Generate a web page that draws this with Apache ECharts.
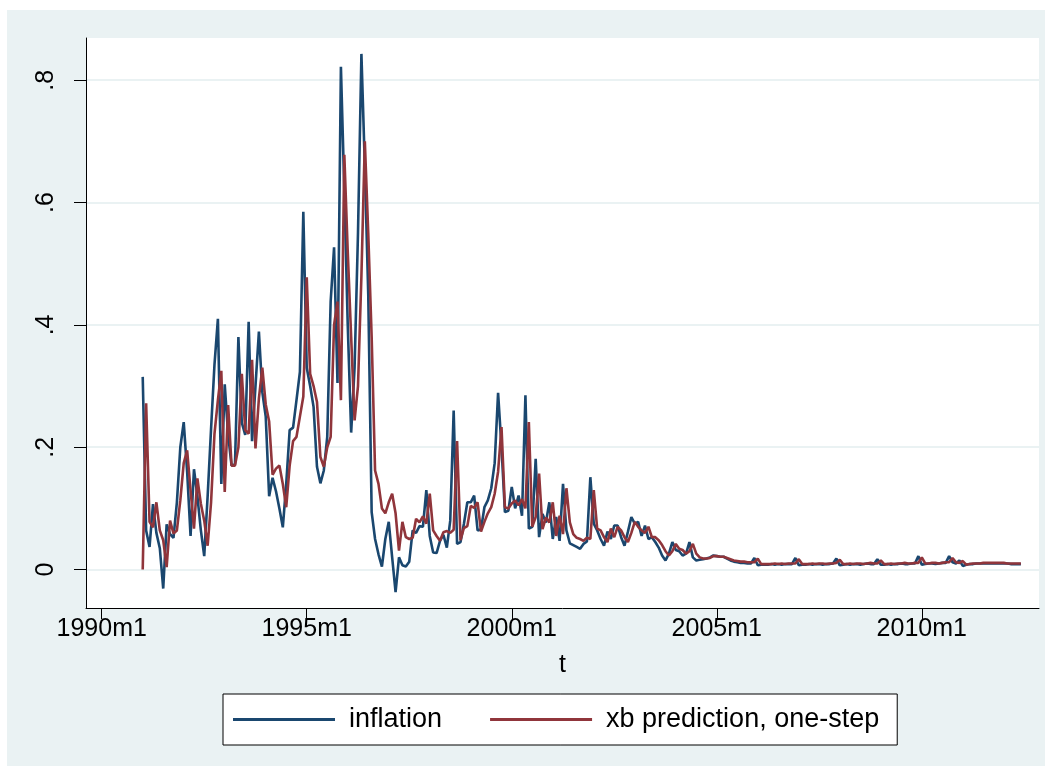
<!DOCTYPE html>
<html><head><meta charset="utf-8">
<script src="https://cdn.jsdelivr.net/npm/echarts@6/dist/echarts.min.js"></script>
<style>html,body{margin:0;padding:0;background:#ffffff;} #c{position:absolute;left:7px;top:10px;width:1038px;height:756px;}</style>
</head><body><div id="c"></div>
<script>
// months since 1990m1 of the first observation (1991m1)
const firstMonthIndex = 12;
const inflation = [
 0.315, 0.064, 0.037, 0.107, 0.060, 0.035, -0.031, 0.074, 0.058, 0.052, 0.110, 0.200,
 0.241, 0.160, 0.055, 0.164, 0.120, 0.065, 0.022, 0.120, 0.230, 0.335, 0.410, 0.140,
 0.303, 0.220, 0.170, 0.172, 0.380, 0.240, 0.220, 0.405, 0.210, 0.300, 0.389, 0.290,
 0.250, 0.120, 0.150, 0.128, 0.100, 0.069, 0.140, 0.228, 0.232, 0.277, 0.323, 0.585,
 0.330, 0.300, 0.266, 0.168, 0.141, 0.162, 0.217, 0.438, 0.527, 0.305, 0.822, 0.620,
 0.400, 0.224, 0.330, 0.550, 0.843, 0.660, 0.450, 0.094, 0.050, 0.025, 0.005, 0.050,
 0.078, 0.020, -0.037, 0.020, 0.007, 0.005, 0.013, 0.064, 0.060, 0.071, 0.070, 0.130,
 0.055, 0.028, 0.027, 0.047, 0.057, 0.036, 0.080, 0.260, 0.042, 0.045, 0.075, 0.110,
 0.110, 0.121, 0.064, 0.066, 0.102, 0.113, 0.133, 0.174, 0.289, 0.200, 0.094, 0.096,
 0.135, 0.100, 0.121, 0.088, 0.285, 0.067, 0.070, 0.181, 0.053, 0.091, 0.077, 0.110,
 0.050, 0.086, 0.047, 0.140, 0.064, 0.043, 0.040, 0.037, 0.034, 0.042, 0.046, 0.151,
 0.075, 0.064, 0.050, 0.039, 0.062, 0.050, 0.072, 0.072, 0.053, 0.039, 0.062, 0.086,
 0.075, 0.078, 0.055, 0.072, 0.050, 0.053, 0.045, 0.036, 0.023, 0.015, 0.026, 0.045,
 0.032, 0.030, 0.023, 0.026, 0.045, 0.020, 0.015, 0.016, 0.017, 0.018, 0.020, 0.023,
 0.022, 0.021, 0.021, 0.018, 0.015, 0.013, 0.012, 0.011, 0.011, 0.010, 0.010, 0.019,
 0.007, 0.008, 0.008, 0.008, 0.009, 0.008, 0.009, 0.008, 0.009, 0.009, 0.009, 0.019,
 0.007, 0.008, 0.008, 0.009, 0.008, 0.009, 0.009, 0.008, 0.009, 0.009, 0.010, 0.018,
 0.007, 0.008, 0.009, 0.008, 0.009, 0.009, 0.008, 0.009, 0.010, 0.009, 0.009, 0.017,
 0.008, 0.008, 0.009, 0.008, 0.009, 0.009, 0.010, 0.009, 0.009, 0.010, 0.010, 0.022,
 0.008, 0.009, 0.010, 0.010, 0.009, 0.010, 0.011, 0.011, 0.022, 0.012, 0.010, 0.015,
 0.006, 0.008, 0.009, 0.009, 0.010, 0.010, 0.010, 0.010, 0.010, 0.010, 0.010, 0.010,
 0.010, 0.010, 0.009, 0.009, 0.009, 0.009
];
const prediction = [
 0.000, 0.272, 0.078, 0.069, 0.110, 0.064, 0.048, 0.004, 0.080, 0.059, 0.064, 0.113,
 0.174, 0.195, 0.130, 0.067, 0.149, 0.108, 0.080, 0.039, 0.110, 0.222, 0.277, 0.325,
 0.127, 0.269, 0.170, 0.170, 0.200, 0.320, 0.228, 0.222, 0.343, 0.198, 0.280, 0.330,
 0.270, 0.242, 0.155, 0.165, 0.170, 0.140, 0.102, 0.170, 0.210, 0.217, 0.250, 0.283,
 0.478, 0.320, 0.300, 0.274, 0.184, 0.168, 0.200, 0.217, 0.400, 0.438, 0.277, 0.678,
 0.520, 0.380, 0.244, 0.300, 0.480, 0.700, 0.550, 0.380, 0.162, 0.140, 0.100, 0.092,
 0.110, 0.124, 0.092, 0.031, 0.078, 0.053, 0.050, 0.052, 0.083, 0.077, 0.087, 0.075,
 0.124, 0.064, 0.055, 0.047, 0.061, 0.063, 0.060, 0.065, 0.210, 0.048, 0.068, 0.071,
 0.104, 0.101, 0.110, 0.062, 0.078, 0.092, 0.102, 0.124, 0.160, 0.233, 0.102, 0.100,
 0.108, 0.113, 0.105, 0.115, 0.100, 0.241, 0.070, 0.086, 0.157, 0.066, 0.085, 0.077,
 0.110, 0.055, 0.088, 0.058, 0.133, 0.077, 0.058, 0.052, 0.050, 0.047, 0.052, 0.050,
 0.130, 0.067, 0.064, 0.053, 0.045, 0.067, 0.053, 0.070, 0.064, 0.053, 0.045, 0.060,
 0.078, 0.070, 0.064, 0.060, 0.070, 0.053, 0.053, 0.048, 0.040, 0.030, 0.023, 0.030,
 0.042, 0.034, 0.032, 0.026, 0.030, 0.042, 0.026, 0.020, 0.018, 0.018, 0.019, 0.022,
 0.022, 0.021, 0.021, 0.019, 0.017, 0.015, 0.014, 0.013, 0.013, 0.012, 0.012, 0.012,
 0.018, 0.009, 0.009, 0.009, 0.009, 0.010, 0.009, 0.010, 0.009, 0.010, 0.010, 0.010,
 0.017, 0.009, 0.009, 0.009, 0.010, 0.009, 0.010, 0.010, 0.009, 0.010, 0.010, 0.011,
 0.016, 0.009, 0.009, 0.010, 0.009, 0.010, 0.010, 0.009, 0.010, 0.011, 0.010, 0.010,
 0.015, 0.009, 0.009, 0.010, 0.009, 0.010, 0.010, 0.011, 0.010, 0.010, 0.011, 0.011,
 0.020, 0.010, 0.010, 0.011, 0.011, 0.010, 0.011, 0.012, 0.012, 0.019, 0.012, 0.011,
 0.014, 0.008, 0.009, 0.010, 0.010, 0.010, 0.011, 0.011, 0.011, 0.011, 0.011, 0.011,
 0.011, 0.010, 0.010, 0.010, 0.010, 0.010
];
const seriesNames = ['inflation', 'xb prediction, one-step'];
const xTickValues = [0, 60, 120, 180, 240];
const xTickLabels = ['1990m1', '1995m1', '2000m1', '2005m1', '2010m1'];
const yTickValues = [0, 0.2, 0.4, 0.6, 0.8];
const yTickLabels = ['0', '.2', '.4', '.6', '.8'];
const xAxisTitle = 't';

const FONT = "'Liberation Sans', Arial, sans-serif";
const toPairs = arr => arr.map((v, i) => [firstMonthIndex + i, v]);
const lookup = (vals, labels) => v => {
  for (let i = 0; i < vals.length; i++) if (Math.abs(vals[i] - v) < 1e-6) return labels[i];
  return '';
};

const chart = echarts.init(document.getElementById('c'), null, {renderer: 'canvas'});
chart.setOption({
  animation: false,
  backgroundColor: '#eaf2f3',
  grid: {left: 79, right: 6, top: 28, bottom: 158, show: true, backgroundColor: '#ffffff', borderWidth: 0},
  xAxis: {
    type: 'value', min: -4.6, max: 274.3,
    axisLine: {show: true, onZero: false, lineStyle: {color: '#000000', width: 1}},
    axisTick: {show: true, length: 11, customValues: xTickValues, lineStyle: {color: '#000000', width: 1}},
    axisLabel: {customValues: xTickValues, formatter: lookup(xTickValues, xTickLabels), fontSize: 25, color: '#000000', fontFamily: FONT, margin: 9},
    splitLine: {show: false},
    name: xAxisTitle, nameLocation: 'middle', nameGap: 45,
    nameTextStyle: {fontSize: 25, color: '#000000', fontFamily: FONT}
  },
  yAxis: {
    type: 'value', min: -0.0628, max: 0.869,
    axisLine: {show: true, onZero: false, lineStyle: {color: '#000000', width: 1}},
    axisTick: {show: true, length: 12, customValues: yTickValues, lineStyle: {color: '#000000', width: 1}},
    axisLabel: {customValues: yTickValues, formatter: lookup(yTickValues, yTickLabels), rotate: 90, fontSize: 25, color: '#000000', fontFamily: FONT, margin: 27},
    splitLine: {show: true, lineStyle: {color: '#eaf2f3', width: 2}}
  },
  legend: {
    left: 216, top: 684,
    data: seriesNames,
    icon: 'rect',
    backgroundColor: '#ffffff', borderColor: '#000000', borderWidth: 1,
    padding: [12, 18, 12, 10],
    itemWidth: 102, itemHeight: 3, itemGap: 48,
    textStyle: {fontSize: 27, color: '#000000', fontFamily: FONT, padding: [0, 0, 0, 9]}
  },
  series: [
    {name: seriesNames[0], type: 'line', symbol: 'none', data: toPairs(inflation),
     lineStyle: {color: '#1a476f', width: 2.6}, itemStyle: {color: '#1a476f'}, z: 3},
    {name: seriesNames[1], type: 'line', symbol: 'none', data: toPairs(prediction),
     lineStyle: {color: '#90353b', width: 2.6}, itemStyle: {color: '#90353b'}, z: 4}
  ]
});
</script>
</body></html>
